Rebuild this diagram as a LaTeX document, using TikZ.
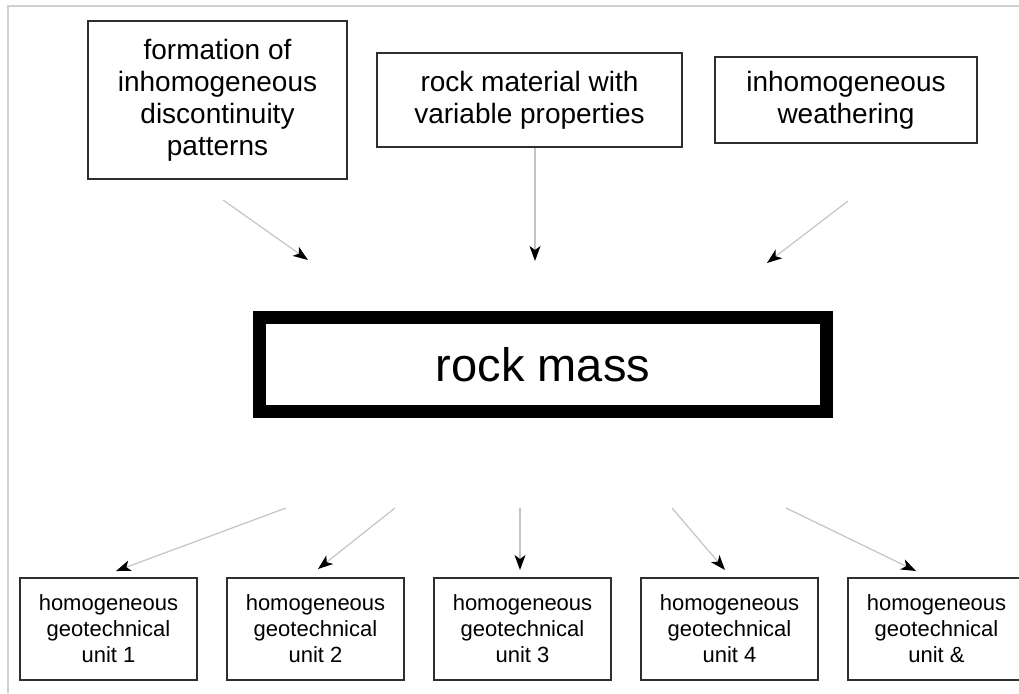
\documentclass[tikz,border=0pt]{standalone}
\usepackage{fontspec}
\setmainfont{Liberation Sans}
\usetikzlibrary{
  arrows.meta,
  positioning
}
\definecolor{rmframe}{HTML}{D0D0D0}
\definecolor{rmline}{HTML}{C4C4C4}
\definecolor{rmedge}{HTML}{2E2E2E}

\begin{document}
\begin{tikzpicture}[
      x=1pt, y=-1pt,
      causebox/.style={
        rectangle, draw=rmedge, line width=2pt, fill=white,
        inner sep=0pt, align=center,
        font=\fontsize{28}{32}\selectfont
      },
      massbox/.style={
        rectangle, draw=black, line width=13pt, fill=white,
        minimum width=567pt, minimum height=94pt,
        font=\fontsize{47}{52}\selectfont
      },
      unitbox/.style={
        rectangle, draw=rmedge, line width=2pt, fill=white,
        minimum width=177pt, minimum height=102pt,
        inner sep=0pt, align=center,
        font=\fontsize{22}{26}\selectfont
      },
      feed/.style={-{Stealth[length=15pt, width=11pt, inset=4pt, color=black]},
        line width=1.2pt, rmline}
    ]
      \useasboundingbox (0,0) rectangle (1019,693);

      % Frame
      \draw[rmframe, line width=1.5pt] (8,693) -- (8,6) -- (1019,6);

      % Causes
      \node[causebox, minimum width=259pt, minimum height=158pt] (pattern) at (217.5,100)
        {formation of\\inhomogeneous\\discontinuity\\patterns};
      \node[causebox, minimum width=305pt, minimum height=93pt] (material) at (529.5,100)
        {rock material with\\variable properties};
      \node[causebox, minimum width=262pt, minimum height=86pt] (weather) at (846,100)
        {inhomogeneous\\weathering};

      % Rock mass
      \node[massbox] (mass) at (543,364.5) {rock mass};

      % Geotechnical units
      \node[unitbox] (unit1) at (108.5,629) {homogeneous\\geotechnical\\unit 1};
      \node[unitbox, right=28pt of unit1] (unit2) {homogeneous\\geotechnical\\unit 2};
      \node[unitbox, right=28pt of unit2] (unit3) {homogeneous\\geotechnical\\unit 3};
      \node[unitbox, right=28pt of unit3] (unit4) {homogeneous\\geotechnical\\unit 4};
      \node[unitbox, right=28pt of unit4] (unit5) {homogeneous\\geotechnical\\unit \&};

      % Arrow ends
      \coordinate (in1a) at (223,200);  \coordinate (in1b) at (308,260);
      \coordinate (in2a) at (535,148);  \coordinate (in2b) at (535,261);
      \coordinate (in3a) at (848,201);  \coordinate (in3b) at (767,263);
      \coordinate (out1a) at (286,508); \coordinate (out1b) at (116,571);
      \coordinate (out2a) at (395,508); \coordinate (out2b) at (318,569);
      \coordinate (out3a) at (520,508); \coordinate (out3b) at (520,570);
      \coordinate (out4a) at (672,508); \coordinate (out4b) at (725,570);
      \coordinate (out5a) at (786,508); \coordinate (out5b) at (916,571);

      % Arrows
      \draw[feed] (in1a) -- (in1b);
      \draw[feed] (in2a) -- (in2b);
      \draw[feed] (in3a) -- (in3b);

      \draw[feed] (out1a) -- (out1b);
      \draw[feed] (out2a) -- (out2b);
      \draw[feed] (out3a) -- (out3b);
      \draw[feed] (out4a) -- (out4b);
      \draw[feed] (out5a) -- (out5b);
    \end{tikzpicture}
\end{document}
